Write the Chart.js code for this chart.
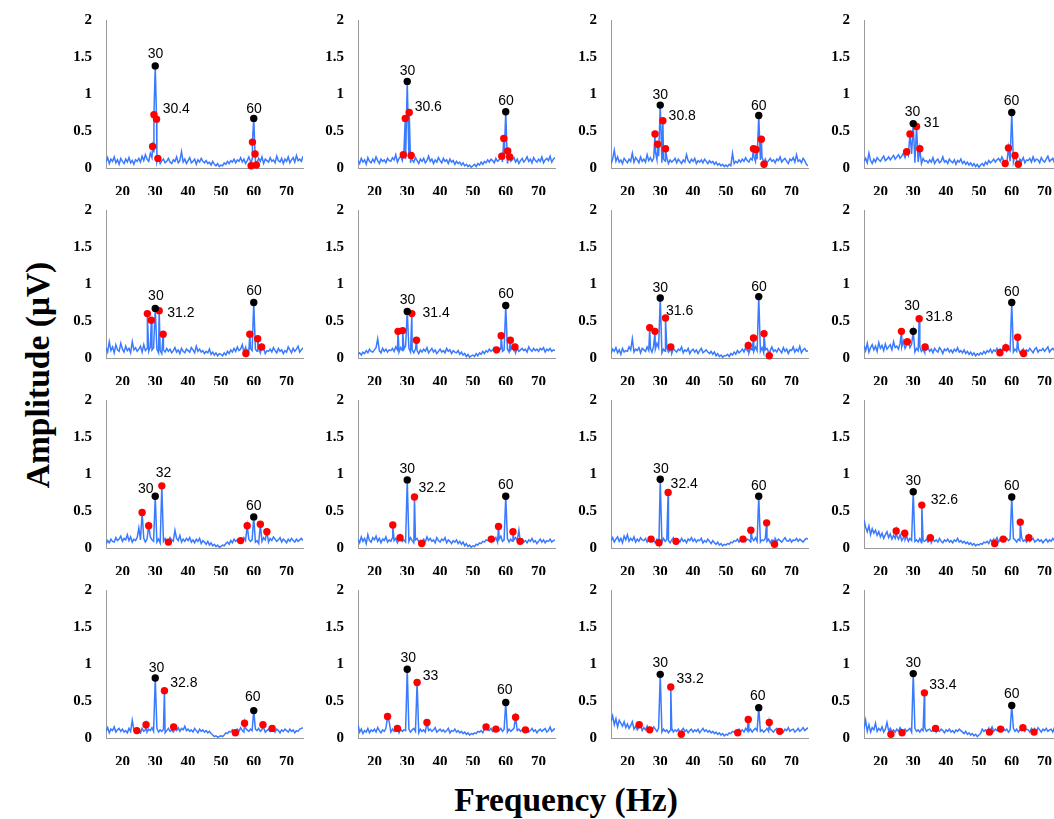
<!DOCTYPE html>
<html>
<head>
<meta charset="utf-8">
<script src="https://cdn.jsdelivr.net/npm/chart.js@4.4.1/dist/chart.umd.min.js"></script>
<style>
  html, body { margin: 0; padding: 0; background: #fff; width: 1054px; height: 819px; overflow: hidden; position: relative; }
  canvas { position: absolute; }
  .title { position: absolute; font-family: "Liberation Serif", "Times New Roman", serif; font-weight: bold;
           font-size: 33.5px; color: #000; white-space: nowrap; text-align: center; line-height: 40px; }
  #ylab { left: -112px; top: 355px; width: 300px; transform: rotate(-90deg); }
  #xlab { left: 366px; top: 780px; width: 400px; }
</style>
</head>
<body>
<div id="ylab" class="title">Amplitude (μV)</div>
<div id="xlab" class="title">Frequency (Hz)</div>
<script>
// stimulus frequency of each panel (row by row)
const stimFreqs = [30.4, 30.6, 30.8, 31, 31.2, 31.4, 31.6, 31.8, 32, 32.2, 32.4, 32.6, 32.8, 33, 33.2, 33.4];

// black peaks at 30 Hz and 60 Hz
const amp30 = [1.38, 1.17, 0.85, 0.60, 0.67, 0.63, 0.81, 0.36, 0.70, 0.92, 0.93, 0.76, 0.81, 0.93, 0.86, 0.87];
const amp60 = [0.67, 0.76, 0.71, 0.75, 0.75, 0.71, 0.83, 0.75, 0.42, 0.70, 0.70, 0.69, 0.37, 0.48, 0.41, 0.44];

// red peaks
const redFreqs = [
  [29.2, 29.6, 30.4, 30.8, 59.2, 59.6, 60.4, 60.8],
  [28.8, 29.4, 30.6, 31.2, 58.8, 59.4, 60.6, 61.2],
  [28.4, 29.2, 30.8, 31.6, 58.4, 59.2, 60.8, 61.6],
  [28, 29, 31, 32, 58, 59, 61, 62],
  [27.6, 28.8, 31.2, 32.4, 57.6, 58.8, 61.2, 62.4],
  [27.2, 28.6, 31.4, 32.8, 57.2, 58.6, 61.4, 62.8],
  [26.8, 28.4, 31.6, 33.2, 56.8, 58.4, 61.6, 63.2],
  [26.4, 28.2, 31.8, 33.6, 56.4, 58.2, 61.8, 63.6],
  [26, 28, 32, 34, 56, 58, 62, 64],
  [25.6, 27.8, 32.2, 34.4, 55.6, 57.8, 62.2, 64.4],
  [27.2, 29.6, 32.4, 34.8, 55.2, 57.6, 62.4, 64.8],
  [24.8, 27.4, 32.6, 35.2, 54.8, 57.4, 62.6, 65.2],
  [24.4, 27.2, 32.8, 35.6, 54.4, 57.2, 62.8, 65.6],
  [24, 27, 33, 36, 54, 57, 63, 66],
  [23.6, 26.8, 33.2, 36.4, 53.6, 56.8, 63.2, 66.4],
  [23.2, 26.6, 33.4, 36.8, 53.2, 56.6, 63.4, 66.8]
];
const redAmps = [
  [0.29, 0.72, 0.66, 0.13, 0.03, 0.35, 0.19, 0.04],
  [0.18, 0.67, 0.75, 0.17, 0.16, 0.40, 0.23, 0.15],
  [0.46, 0.32, 0.64, 0.26, 0.26, 0.25, 0.39, 0.05],
  [0.22, 0.46, 0.56, 0.26, 0.06, 0.27, 0.17, 0.05],
  [0.60, 0.51, 0.64, 0.32, 0.06, 0.32, 0.26, 0.15],
  [0.36, 0.37, 0.60, 0.24, 0.11, 0.30, 0.24, 0.15],
  [0.41, 0.36, 0.54, 0.15, 0.17, 0.27, 0.33, 0.03],
  [0.36, 0.22, 0.53, 0.15, 0.07, 0.14, 0.28, 0.06],
  [0.48, 0.30, 0.84, 0.08, 0.10, 0.30, 0.32, 0.22],
  [0.31, 0.14, 0.69, 0.06, 0.12, 0.29, 0.22, 0.09],
  [0.12, 0.07, 0.75, 0.09, 0.12, 0.24, 0.34, 0.05],
  [0.23, 0.20, 0.58, 0.14, 0.06, 0.12, 0.35, 0.14],
  [0.10, 0.18, 0.64, 0.15, 0.07, 0.20, 0.18, 0.13],
  [0.29, 0.13, 0.75, 0.21, 0.15, 0.12, 0.28, 0.11],
  [0.18, 0.11, 0.69, 0.05, 0.07, 0.25, 0.21, 0.09],
  [0.05, 0.07, 0.61, 0.13, 0.08, 0.12, 0.14, 0.08]
];

// background spectrum, hundredths of uV, every 0.5 Hz from 15 to 75 Hz
const noiseStart = 15, noiseStep = 0.5;
const noiseRows = [
  `8 14 6 12 9 15 7 11 5 13 9 6 12 8 14 7 10 5 11 9 13 8 16 10 18 12 9 20 14 22 11 8 14 6 10 12 7 9 13 8
   6 11 9 15 7 10 22 8 12 6 10 14 7 9 12 5 11 8 13 9 7 10 6 8 4 9 5 3 6 2 4 3 7 5 9 6 10 8 12 7
   11 9 14 8 12 6 10 15 9 13 8 11 7 13 9 15 6 12 10 8 14 9 11 7 16 10 8 13 6 12 9 15 7 11 14 8 17 10 12 9 16`,
  `10 6 13 8 11 5 14 9 7 12 8 15 10 6 12 9 11 7 13 10 9 14 11 18 8 13 16 10 24 12 9 13 7 11 8 14 10 6 12 9
   13 7 10 16 9 12 6 11 8 14 10 7 13 9 11 6 12 8 10 5 9 6 8 4 7 3 5 2 4 1 3 5 2 6 4 8 5 9 7 11
   8 12 10 7 13 9 11 15 8 12 10 7 13 9 11 14 8 12 6 10 13 8 11 15 9 12 7 14 10 8 12 9 15 7 11 13 10 16 8 12 14`,
  `5 12 24 9 15 8 11 6 13 10 7 12 9 20 8 14 11 7 15 9 12 8 18 10 14 9 13 22 11 16 10 7 12 9 14 6 11 8 10 13
   7 12 9 6 11 8 18 10 7 12 9 13 6 10 8 11 7 12 9 6 10 7 9 5 8 4 6 3 5 2 4 2 5 3 20 6 9 7 11 8
   12 9 14 10 8 13 11 16 9 12 8 11 14 9 12 7 10 13 9 11 7 12 10 15 8 11 13 9 6 12 10 14 8 18 9 11 7 13 10 5 3`,
  `9 13 7 20 10 6 12 8 14 11 9 13 16 10 12 15 11 14 17 12 15 18 13 16 20 14 22 17 12 19 10 7 12 8 11 6 13 9 10 7
   11 8 14 6 10 12 7 9 15 8 10 6 12 9 7 11 5 10 8 12 6 9 5 8 4 7 3 6 2 5 1 4 6 3 8 5 10 7 9 12
   8 11 13 9 15 10 12 7 14 9 11 8 13 10 6 12 9 14 7 11 10 13 8 15 9 12 11 7 14 10 8 12 16 9 11 13 7 10 14 9 12`,
  `14 8 22 10 15 7 18 11 9 20 12 8 16 10 13 7 22 11 14 9 12 16 8 18 10 13 9 15 11 14 9 12 7 10 6 11 8 13 9 12
   7 10 14 8 11 6 13 9 7 12 10 8 14 11 7 16 9 12 8 10 6 9 7 12 5 8 4 7 3 6 5 3 7 4 9 6 11 8 13 9
   15 10 12 18 8 14 11 9 13 10 8 12 9 14 7 11 13 6 10 9 12 8 14 10 7 13 9 11 6 10 8 15 11 7 13 9 12 16 8 11 14`,
  `5 7 4 8 6 10 7 12 9 8 11 14 26 10 7 13 9 12 8 11 10 13 9 15 11 8 14 10 12 16 9 13 8 11 7 12 10 6 11 8
   12 9 14 7 10 13 8 11 6 9 12 8 10 7 13 9 11 6 10 8 7 10 5 8 4 6 2 5 1 3 4 2 6 3 7 5 9 6 10 8
   12 9 11 14 8 12 10 13 9 11 9 12 8 11 14 10 7 13 9 11 13 10 12 8 15 11 9 13 10 12 9 13 11 14 8 12 10 13 9 11 10`,
  `6 12 9 14 7 11 5 13 8 10 9 15 11 26 8 12 10 14 7 13 11 9 15 10 13 8 17 12 20 14 10 7 12 9 14 8 11 6 13 10
   8 12 10 15 7 11 9 13 6 10 12 8 11 6 10 13 7 9 11 8 6 9 5 8 3 6 2 4 1 3 3 5 2 6 4 8 5 10 7 9
   12 8 14 10 7 13 11 9 15 10 12 9 14 7 11 13 8 10 15 9 11 8 13 10 7 14 9 12 6 11 10 15 8 12 9 16 7 11 13 9 10`,
  `17 10 20 8 14 18 11 16 9 21 13 17 10 19 12 15 18 11 22 14 16 12 20 15 23 13 18 22 14 19 11 8 13 10 15 9 12 7 11 14
   9 12 7 13 10 8 14 11 6 12 10 13 8 11 7 12 9 14 8 10 7 11 6 9 5 8 4 7 3 6 4 7 5 9 6 10 8 12 7 11
   9 13 8 12 10 14 11 9 13 10 11 8 12 9 13 7 10 12 8 11 9 13 10 7 12 14 8 11 10 13 9 12 15 8 11 13 10 7 12 16 18`,
  `5 10 7 12 9 8 14 10 12 16 9 13 11 18 10 15 8 12 10 14 27 11 9 13 8 12 10 15 11 9 10 8 12 7 11 9 13 8 10 14
   11 9 24 13 10 17 8 12 9 13 10 14 8 11 7 12 9 13 6 10 8 5 9 4 7 3 5 2 4 1 2 4 3 6 8 5 10 7 12 9
   11 8 13 9 14 10 7 12 9 11 13 8 10 6 12 9 14 11 15 8 13 10 15 12 9 11 14 8 12 10 7 12 9 13 10 8 12 9 11 13 10`,
  `12 7 15 9 13 6 18 10 8 14 11 16 9 13 7 12 10 15 8 11 9 14 10 13 7 12 15 9 11 8 12 9 14 10 7 11 13 8 10 9
   12 8 15 10 13 9 11 7 14 10 8 12 10 14 7 11 9 6 10 8 11 6 9 5 8 3 6 2 4 1 3 2 5 4 7 6 9 8 11 10
   13 9 12 10 14 8 12 16 9 11 10 13 8 12 9 11 14 10 24 9 12 8 10 7 11 9 13 8 10 6 9 12 8 11 7 10 9 12 8 10 11`,
  `10 14 8 12 15 9 13 7 16 11 18 9 13 10 15 8 12 9 14 11 10 13 8 12 9 14 10 7 12 9 11 8 13 9 12 10 7 11 14 9
   12 10 8 13 9 11 7 12 10 14 9 12 8 11 10 13 7 10 8 12 9 6 10 7 5 8 4 6 3 5 4 6 5 8 7 10 9 12 8 11
   10 13 9 12 11 8 13 10 14 9 12 8 11 10 13 9 12 7 11 10 13 9 12 10 8 11 14 10 9 12 8 11 10 13 9 12 10 8 11 13 12`,
  `38 28 22 30 18 26 20 24 17 22 15 20 13 18 22 14 19 12 17 13 16 12 18 10 14 11 16 9 13 10 12 9 11 8 13 7 10 9 12 8
   10 7 12 9 11 8 13 9 7 11 9 12 8 10 7 11 9 13 8 10 7 9 6 8 5 7 4 6 3 5 4 6 5 8 7 9 6 11 9 12
   10 14 8 12 15 9 11 13 10 12 9 13 11 8 12 10 14 9 11 8 12 9 11 13 8 10 12 9 11 7 10 12 8 11 9 13 10 12 8 11 9`,
  `9 14 7 12 10 15 8 11 13 9 12 8 10 7 13 9 24 11 8 12 10 7 13 9 11 8 12 10 14 9 10 13 8 11 9 12 7 10 13 9
   11 8 12 10 14 9 13 11 16 10 12 9 11 8 13 10 7 12 9 11 8 10 7 9 6 4 2 3 1 2 3 2 4 7 6 9 8 11 7 10
   12 9 14 10 8 13 11 9 12 10 8 12 10 13 9 11 14 8 10 12 9 11 13 8 12 10 7 11 9 12 10 8 12 9 11 7 10 9 12 13 14`,
  `18 8 12 6 10 8 13 7 11 9 12 8 14 10 7 11 9 13 10 22 8 12 9 14 10 7 12 9 11 10 9 12 8 11 13 9 10 7 12 9
   11 8 13 10 12 9 11 14 8 10 12 9 11 8 10 13 7 10 9 12 8 10 7 9 6 8 5 7 4 6 5 7 6 9 8 10 7 12 9 11
   10 13 9 12 8 11 10 13 9 12 10 8 12 9 11 13 8 10 12 9 11 14 9 12 8 10 13 9 11 7 10 12 9 11 13 8 10 15 9 11 13`,
  `22 30 18 26 15 24 20 16 22 14 19 13 17 22 12 16 11 15 18 10 14 11 16 9 13 10 15 12 9 13 10 8 12 9 11 7 10 13 8 11
   9 12 8 10 13 9 11 7 10 12 8 11 9 12 7 10 13 9 11 8 10 7 9 6 8 5 7 4 6 3 5 4 7 6 9 8 10 7 12 9
   11 8 13 10 9 12 8 11 13 10 12 9 11 8 10 13 9 12 10 8 11 13 9 12 10 8 12 10 14 9 11 12 8 10 13 9 11 14 10 12 14`,
  `12 24 9 18 8 14 11 20 9 13 10 15 8 12 21 10 13 9 11 8 12 9 14 10 8 12 9 11 13 8 10 13 9 11 8 12 10 14 9 11
   12 9 10 13 8 11 9 12 10 7 11 9 12 8 10 7 11 9 12 10 8 6 9 5 7 4 6 3 5 2 4 6 12 9 11 8 13 10 15 9
   12 10 14 9 11 13 10 12 8 11 10 13 9 12 8 11 10 14 9 12 11 8 13 10 12 9 14 11 8 12 10 13 9 11 12 8 14 10 12 11 13`
];

// where the peak labels sit, in axis units [Hz, uV]: "30", stimulus, "60"
const label30Pos = [[30.1,1.54],[30.1,1.31],[30,0.99],[29.8,0.76],[30.2,0.83],[30.1,0.78],[30,0.95],[29.6,0.70],
                    [27.1,0.80],[30,1.06],[30.2,1.07],[30,0.90],[30.4,0.94],[30.3,1.08],[30,1.01],[30,1.01]];
const stimLabelPos = [[36.4,0.79],[36.4,0.82],[36.7,0.70],[35.6,0.60],[37.8,0.61],[38.8,0.60],[35.9,0.63],[37.9,0.55],
                      [32.5,1.01],[37.6,0.81],[37.3,0.86],[39.5,0.65],[38.7,0.74],[37.1,0.84],[39.1,0.79],[39.0,0.72]];
const label60Pos = [[60.1,0.80],[60.1,0.91],[60,0.84],[59.9,0.91],[60.1,0.91],[60.1,0.86],[60.1,0.96],[60,0.89],
                    [60,0.56],[60,0.85],[60,0.84],[60,0.83],[59.7,0.55],[59.7,0.64],[59.7,0.57],[60,0.59]];

const xTicks = [20, 30, 40, 50, 60, 70];
const yTicks = [0, 0.5, 1, 1.5, 2];

const colLeft = [106, 358, 611, 864];
const rowTop = [17, 207, 397, 587];
const BLUE = "rgb(58,122,255)";

function buildSpectrum(i) {
  const noise = noiseRows[i].trim().split(/\s+/).map(Number);
  const peaks = [[30, amp30[i]], [60, amp60[i]]]
    .concat(redFreqs[i].map((f, k) => [f, redAmps[i][k]]));
  const pts = [];
  noise.forEach((v, k) => {
    const f = noiseStart + k * noiseStep;
    if (peaks.some(p => Math.abs(p[0] - f) < 0.1)) return;
    pts.push({ x: f, y: v / 100 });
  });
  peaks.forEach(p => pts.push({ x: p[0], y: p[1] }));
  pts.sort((a, b) => a.x - b.x);
  return pts;
}

function labelPlugin(i) {
  const items = [
    ["30", label30Pos[i]],
    [String(stimFreqs[i]), stimLabelPos[i]],
    ["60", label60Pos[i]]
  ];
  return {
    id: "peakLabels" + i,
    afterDatasetsDraw(chart) {
      const ctx = chart.ctx;
      const xs = chart.scales.x, ys = chart.scales.y;
      ctx.save();
      ctx.font = "14px 'Liberation Sans', Arial, sans-serif";
      ctx.fillStyle = "#000";
      ctx.textAlign = "center";
      ctx.textBaseline = "middle";
      for (const [txt, pos] of items) {
        ctx.fillText(txt, xs.getPixelForValue(pos[0]), ys.getPixelForValue(pos[1]));
      }
      ctx.restore();
    }
  };
}

function makePanel(i) {
  const r = Math.floor(i / 4), c = i % 4;
  const canvas = document.createElement("canvas");
  canvas.width = 251;
  canvas.height = 190;
  canvas.style.left = (colLeft[c] - 40) + "px";
  canvas.style.top = (rowTop[r] - 12) + "px";
  document.body.appendChild(canvas);

  const reds = redFreqs[i].map((f, k) => ({ x: f, y: redAmps[i][k] }));
  const blacks = [{ x: 30, y: amp30[i] }, { x: 60, y: amp60[i] }];

  new Chart(canvas, {
    type: "line",
    data: {
      datasets: [
        { type: "line", data: buildSpectrum(i), borderColor: BLUE, borderWidth: 1.5,
          pointRadius: 0, tension: 0, order: 3 },
        { type: "scatter", data: reds, backgroundColor: "#ff0000", borderWidth: 0,
          pointRadius: 3.7, clip: false, order: 2 },
        { type: "scatter", data: blacks, backgroundColor: "#000", borderWidth: 0,
          pointRadius: 3.7, clip: false, order: 1 }
      ]
    },
    options: {
      responsive: false,
      animation: false,
      events: [],
      layout: { padding: { top: 12, right: 14, left: 0, bottom: 0 } },
      plugins: { legend: { display: false }, tooltip: { enabled: false } },
      scales: {
        x: {
          type: "linear", min: 15, max: 75,
          afterBuildTicks: s => { s.ticks = xTicks.map(v => ({ value: v })); },
          afterFit: s => { s.height = 27; },
          grid: { display: false },
          border: { display: true, color: "#9a9a9a", width: 1 },
          ticks: { font: { family: "Liberation Serif", weight: "bold", size: 15 },
                   color: "#000", padding: 7, maxRotation: 0, autoSkip: false }
        },
        y: {
          type: "linear", min: 0, max: 2,
          afterBuildTicks: s => { s.ticks = yTicks.map(v => ({ value: v })); },
          afterFit: s => { s.width = 40; },
          grid: { display: false },
          border: { display: true, color: "#9a9a9a", width: 1 },
          ticks: { font: { family: "Liberation Serif", weight: "bold", size: 15 },
                   color: "#000", padding: 6, autoSkip: false,
                   callback: v => String(v) }
        }
      }
    },
    plugins: [labelPlugin(i)]
  });
}

for (let i = 0; i < stimFreqs.length; i++) makePanel(i);
</script>
</body>
</html>
